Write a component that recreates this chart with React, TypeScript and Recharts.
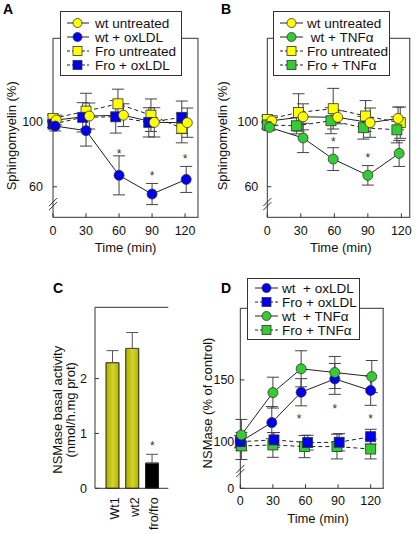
import React from 'react';
import { ComposedChart, Line, Bar, XAxis, YAxis, ErrorBar, ReferenceDot, ReferenceLine, Cell } from 'recharts';

const FONT = '"Liberation Sans", Arial, Helvetica, sans-serif';
const AX = '#333';
const TXT = '#111';
const YELLOW = '#ffff00';
const BLUE = '#0000ee';
const GREEN = '#33cc33';

const TIME_TICKS = [0, 30, 60, 90, 120];

// ---------- Panel A : Sphingomyelin, oxLDL ----------
const A_WT_UNT_T = [3, 33, 64, 92, 122];
const A_WT_UNT_V = [101, 103.5, 104, 99.6, 99.4];
const A_WT_UNT_E = [3, 8, 7, 9, 9];
const A_WT_OX_T = [2, 30, 60, 90, 121];
const A_WT_OX_V = [97.3, 94.5, 67, 55.5, 64.5];
const A_WT_OX_E = [3, 9.5, 12, 6.5, 8];
const A_FRO_UNT_T = [0, 30, 59, 89, 117];
const A_FRO_UNT_V = [102, 106.5, 111, 104, 96];
const A_FRO_UNT_E = [2, 11, 9, 10, 9];
const A_FRO_OX_T = [0, 27, 57, 87, 117];
const A_FRO_OX_V = [98.5, 102.7, 103, 99.6, 102.7];
const A_FRO_OX_E = [2, 9, 10, 9, 10];
const A_STAR_T = [60, 90, 120];
const A_STAR_V = [81.5, 68.3, 78.5];

// ---------- Panel B : Sphingomyelin, TNFα ----------
const B_WT_UNT_T = [4, 32, 63, 92, 117];
const B_WT_UNT_V = [100.6, 103, 102.7, 99.4, 102];
const B_WT_UNT_E = [3, 8, 4, 9, 7];
const B_WT_TNF_T = [2, 32, 59, 90, 118];
const B_WT_TNF_V = [96.5, 90, 77, 67, 80.5];
const B_WT_TNF_E = [2, 9, 7, 6, 8];
const B_FRO_UNT_T = [0, 28, 59, 88, 119];
const B_FRO_UNT_V = [101.4, 105.7, 108, 103.5, 99.4];
const B_FRO_UNT_E = [2, 11.5, 12.5, 9.5, 9.6];
const B_FRO_TNF_T = [0, 26, 57, 86, 116];
const B_FRO_TNF_V = [98, 97.5, 100.6, 96.3, 95];
const B_FRO_TNF_E = [2, 5, 8, 7, 8];
const B_STAR_T = [59, 90];
const B_STAR_V = [89.2, 79.1];

// ---------- Panel C : NSMase basal activity ----------
const C_CATS = ['Wt1', 'wt2', 'fro/fro'];
const C_VALUES = [2.29, 2.55, 0.46];
const C_ERRORS = [0.22, 0.29, 0.16];
const C_STAR_CAT = 'fro/fro';
const C_STAR_V = 0.82;
const C_Y_MAX = 3.3;

// ---------- Panel D : NSMase (% of control) ----------
const D_WT_OX_T = [0, 29, 56, 87, 120];
const D_WT_OX_V = [100, 115.4, 140, 150.8, 141.4];
const D_WT_OX_E = [5, 13, 11, 12.5, 12];
const D_FRO_OX_T = [0, 31, 62, 91, 120];
const D_FRO_OX_V = [100, 101.4, 99.2, 99.5, 104];
const D_FRO_OX_E = [5, 6, 6, 7, 6];
const D_WT_TNF_T = [1, 30, 56, 87, 121];
const D_WT_TNF_V = [105.4, 139.7, 159, 156, 152.7];
const D_WT_TNF_E = [12.6, 12.5, 14.6, 13, 13];
const D_FRO_TNF_T = [1, 30, 59, 89, 120];
const D_FRO_TNF_V = [96.5, 97.3, 96, 96, 94];
const D_FRO_TNF_E = [11, 10, 9, 10, 8];
const D_STAR_T = [54, 87, 120];
const D_STAR_V = [120.3, 128.4, 120.3];
const D_BREAK_BOTTOM = 62.2; // broken axis: bottom of the axis is labelled "0"

type Pt = { t: number; v: number; e: number };
const pts = (t: number[], v: number[], e: number[]): Pt[] => t.map((x, i) => ({ t: x, v: v[i], e: e[i] }));

type Series = { name: string; color: string; shape: 'circle' | 'square'; dashed: boolean; data: Pt[] };

const A_SERIES: Series[] = [
  { name: 'Fro untreated', color: YELLOW, shape: 'square', dashed: true, data: pts(A_FRO_UNT_T, A_FRO_UNT_V, A_FRO_UNT_E) },
  { name: 'Fro + oxLDL', color: BLUE, shape: 'square', dashed: true, data: pts(A_FRO_OX_T, A_FRO_OX_V, A_FRO_OX_E) },
  { name: 'wt untreated', color: YELLOW, shape: 'circle', dashed: false, data: pts(A_WT_UNT_T, A_WT_UNT_V, A_WT_UNT_E) },
  { name: 'wt + oxLDL', color: BLUE, shape: 'circle', dashed: false, data: pts(A_WT_OX_T, A_WT_OX_V, A_WT_OX_E) },
];
const A_LEGEND = ['wt untreated', 'wt + oxLDL', 'Fro untreated', 'Fro + oxLDL'];

const B_SERIES: Series[] = [
  { name: 'Fro untreated', color: YELLOW, shape: 'square', dashed: true, data: pts(B_FRO_UNT_T, B_FRO_UNT_V, B_FRO_UNT_E) },
  { name: 'Fro + TNFα', color: GREEN, shape: 'square', dashed: true, data: pts(B_FRO_TNF_T, B_FRO_TNF_V, B_FRO_TNF_E) },
  { name: 'wt untreated', color: YELLOW, shape: 'circle', dashed: false, data: pts(B_WT_UNT_T, B_WT_UNT_V, B_WT_UNT_E) },
  { name: ' wt + TNFα', color: GREEN, shape: 'circle', dashed: false, data: pts(B_WT_TNF_T, B_WT_TNF_V, B_WT_TNF_E) },
];
const B_LEGEND = ['wt untreated', ' wt + TNFα', 'Fro untreated', 'Fro + TNFα'];

const D_SERIES: Series[] = [
  { name: 'Fro + TNFα', color: GREEN, shape: 'square', dashed: true, data: pts(D_FRO_TNF_T, D_FRO_TNF_V, D_FRO_TNF_E) },
  { name: 'Fro + oxLDL', color: BLUE, shape: 'square', dashed: true, data: pts(D_FRO_OX_T, D_FRO_OX_V, D_FRO_OX_E) },
  { name: 'wt  + oxLDL', color: BLUE, shape: 'circle', dashed: false, data: pts(D_WT_OX_T, D_WT_OX_V, D_WT_OX_E) },
  { name: 'wt  + TNFα', color: GREEN, shape: 'circle', dashed: false, data: pts(D_WT_TNF_T, D_WT_TNF_V, D_WT_TNF_E) },
];
const D_LEGEND = ['wt  + oxLDL', 'Fro + oxLDL', 'wt  + TNFα', 'Fro + TNFα'];

const C_DATA = C_CATS.map((c, i) => ({ name: c, v: C_VALUES[i], e: [0, C_ERRORS[i]] }));

// ---------- shared drawing helpers ----------
function Marker({ cx, cy, color, shape, size = 5 }: any) {
  if (cx == null || cy == null) return null;
  return shape === 'circle' ? (
    <circle cx={cx} cy={cy} r={size} fill={color} stroke="#333" strokeWidth={0.8} />
  ) : (
    <rect x={cx - size} y={cy - size} width={size * 2} height={size * 2} fill={color} stroke="#333" strokeWidth={0.8} />
  );
}

const renderSeries = (s: Series) => (
  <Line
    key={s.name}
    name={s.name}
    data={s.data}
    dataKey="v"
    type="linear"
    stroke="#222"
    strokeWidth={1}
    strokeDasharray={s.dashed ? '4 3' : undefined}
    isAnimationActive={false}
    activeDot={false}
    dot={(p: any) => <Marker key={`${s.name}-${p.index}`} cx={p.cx} cy={p.cy} color={s.color} shape={s.shape} />}
  >
    <ErrorBar dataKey="e" width={6} stroke="#444" strokeWidth={1} direction="y" />
  </Line>
);

const yTick = (gap: number, fmt?: (v: number) => string, inward = true) => (p: any) => {
  const ax = p.x + gap;
  return (
    <g>
      {inward && <line x1={ax} x2={ax + 4} y1={p.y} y2={p.y} stroke={AX} strokeWidth={1} />}
      <text x={p.x} y={p.y} dy="0.355em" textAnchor="end" fontSize={12.5} fill={TXT} fontFamily={FONT}>
        {fmt ? fmt(p.payload.value) : p.payload.value}
      </text>
    </g>
  );
};

const xTick = (gap: number) => (p: any) => {
  const ay = p.y - gap;
  return (
    <g>
      <line x1={p.x} x2={p.x} y1={ay} y2={ay - 4} stroke={AX} strokeWidth={1} />
      <text x={p.x} y={p.y} dy="0.71em" textAnchor="middle" fontSize={12.5} fill={TXT} fontFamily={FONT}>
        {p.payload.value}
      </text>
    </g>
  );
};

const yTitle = (lines: string[], xs: number[], dy: number) => (props: any) => {
  const vb = props.viewBox || { x: 0, y: 0, width: 0, height: 0 };
  const cy = vb.y + vb.height / 2 + dy;
  return (
    <g>
      {lines.map((l, i) => {
        const cx = vb.x + xs[i];
        return (
          <text key={i} x={cx} y={cy} transform={`rotate(-90 ${cx} ${cy})`} textAnchor="middle" dominantBaseline="central" fontSize={13} fill={TXT} fontFamily={FONT}>
            {l}
          </text>
        );
      })}
    </g>
  );
};

const xTitle = (text: string, dx: number, dy: number) => (props: any) => {
  const vb = props.viewBox || { x: 0, y: 0, width: 0, height: 0 };
  const cx = vb.x + vb.width / 2 + dx;
  const cy = vb.y + dy;
  return (
    <text x={cx} y={cy} textAnchor="middle" dominantBaseline="central" fontSize={13} fill={TXT} fontFamily={FONT}>
      {text}
    </text>
  );
};

const StarShape = (p: any) => (
  <text x={p.cx} y={p.cy + 6.5} textAnchor="middle" fontSize={12} fill="#333" fontFamily={FONT}>
    *
  </text>
);

const BreakShape = (p: any) => (
  <g stroke={AX} strokeWidth={1}>
    <line x1={p.cx - 4} y1={p.cy + 1} x2={p.cx + 4} y2={p.cy - 7} />
    <line x1={p.cx - 4} y1={p.cy + 5} x2={p.cx + 4} y2={p.cy - 3} />
  </g>
);

function LegendBox({ left, top, width, height, items, series, padLeft, svgW, markerX, gap, rowH, padTop }: any) {
  return (
    <div
      style={{
        position: 'absolute', left, top, width, height, boxSizing: 'border-box', border: `1px solid ${AX}`,
        background: '#fff', paddingTop: padTop, paddingLeft: padLeft, fontFamily: FONT, fontSize: 13.5, color: TXT, zIndex: 5,
      }}
    >
      {items.map((name: string) => {
        const s: Series = series.find((x: Series) => x.name === name);
        return (
          <div key={name} style={{ display: 'flex', alignItems: 'center', height: rowH, whiteSpace: 'pre' }}>
            <svg width={svgW} height={12} style={{ marginRight: gap, flex: 'none' }}>
              <line x1={0} x2={svgW} y1={6} y2={6} stroke="#222" strokeWidth={1} strokeDasharray={s.dashed ? '3 2' : undefined} />
              <Marker cx={markerX} cy={6} color={s.color} shape={s.shape} size={4.5} />
            </svg>
            <span>{name}</span>
          </div>
        );
      })}
    </div>
  );
}

function TimePanel(props: any) {
  const { left, top, width, height, margin, yWidth, xHeight, xDomain, yDomain, yTicks, yFmt, yGap, xGap,
    series, starT, starV, breakV, yTitleText, yTitleX, yTitleDy, xTitleDx, xTitleDy } = props;
  return (
    <div style={{ position: 'absolute', left, top, width, height }}>
      <ComposedChart width={width} height={height} margin={margin}>
        <XAxis
          dataKey="t" type="number" domain={xDomain} ticks={TIME_TICKS} interval={0} allowDecimals={false}
          height={xHeight} tickSize={0} tickMargin={xGap} tick={xTick(xGap)} tickLine={false}
          axisLine={{ stroke: AX }} label={xTitle('Time (min)', xTitleDx, xTitleDy)}
        />
        <YAxis
          type="number" domain={yDomain} ticks={yTicks} interval={0} width={yWidth} tickSize={0} tickMargin={yGap}
          tick={yTick(yGap, yFmt)} tickLine={false} axisLine={{ stroke: AX }}
          label={yTitle([yTitleText], [yTitleX], yTitleDy)}
        />
        {/* frame: top and right edges of the plot box */}
        <ReferenceLine y={yDomain[1]} stroke={AX} strokeWidth={1} ifOverflow="visible" />
        <ReferenceLine x={xDomain[1]} stroke={AX} strokeWidth={1} ifOverflow="visible" />
        {series.map(renderSeries)}
        {starT.map((t: number, i: number) => (
          <ReferenceDot key={`s${i}`} x={t} y={starV[i]} shape={StarShape} ifOverflow="visible" />
        ))}
        <ReferenceDot x={xDomain[0]} y={breakV} shape={BreakShape} ifOverflow="visible" />
      </ComposedChart>
    </div>
  );
}

const letterStyle = (left: number, top: number): React.CSSProperties => ({
  position: 'absolute', left, top, fontFamily: FONT, fontWeight: 'bold', fontSize: 14, lineHeight: '14px', color: '#000', zIndex: 6,
});

export default function App() {
  return (
    <div style={{ position: 'absolute', left: 0, top: 0, width: 416, height: 535, background: '#fff', overflow: 'hidden' }}>
      <TimePanel
        left={0} top={0} width={208} height={270}
        margin={{ top: 38.3, right: 9.7, bottom: 0, left: 0 }} yWidth={53} xHeight={52.7}
        xDomain={[0, 131.7]} yDomain={[41.2, 151.3]} yTicks={[60, 100]} yGap={10} xGap={9}
        series={A_SERIES} starT={A_STAR_T} starV={A_STAR_V} breakV={48.7}
        yTitleText="Sphingomyelin (%)" yTitleX={12} yTitleDy={8} xTitleDx={0} xTitleDy={29.7}
      />
      <TimePanel
        left={208} top={0} width={208} height={270}
        margin={{ top: 38.3, right: 5.7, bottom: 0, left: 0 }} yWidth={59.3} xHeight={52.7}
        xDomain={[0, 127.5]} yDomain={[41.2, 151.3]} yTicks={[60, 100]} yGap={9} xGap={9}
        series={B_SERIES} starT={B_STAR_T} starV={B_STAR_V} breakV={48.7}
        yTitleText="Sphingomyelin (%)" yTitleX={15} yTitleDy={8} xTitleDx={2} xTitleDy={29.7}
      />
      <TimePanel
        left={194} top={270} width={222} height={265}
        margin={{ top: 38.3, right: 32.3, bottom: 0, left: 0 }} yWidth={46.3} xHeight={46.7}
        xDomain={[0, 131.5]} yDomain={[D_BREAK_BOTTOM, 208]} yTicks={[D_BREAK_BOTTOM, 100, 150]}
        yFmt={(v: number) => (v === D_BREAK_BOTTOM ? '0' : String(v))} yGap={6} xGap={8}
        series={D_SERIES} starT={D_STAR_T} starV={D_STAR_V} breakV={75.4}
        yTitleText="NSMase (% of control)" yTitleX={13} yTitleDy={4.7} xTitleDx={6} xTitleDy={29.7}
      />

      <div style={{ position: 'absolute', left: 0, top: 270, width: 208, height: 265 }}>
        <ComposedChart width={208} height={265} data={C_DATA} margin={{ top: 37.3, right: 39.7, bottom: 0, left: 0 }}>
          <defs>
            <linearGradient id="oliveGrad" x1="0" y1="0" x2="1" y2="0">
              <stop offset="0%" stopColor="#b0b000" />
              <stop offset="55%" stopColor="#d4d42a" />
              <stop offset="100%" stopColor="#b0b000" />
            </linearGradient>
          </defs>
          <XAxis
            dataKey="name" type="category" height={46.7} padding={{ left: 8, right: 6 }} tickSize={0} tickMargin={9}
            tickLine={false} axisLine={{ stroke: AX }} interval={0}
            tick={(p: any) => (
              <text x={p.x + 2} y={p.y} transform={`rotate(-90 ${p.x + 2} ${p.y})`} textAnchor="end" dominantBaseline="central" fontSize={12.5} fill={TXT} fontFamily={FONT}>
                {p.payload.value}
              </text>
            )}
          />
          <YAxis
            type="number" domain={[0, C_Y_MAX]} ticks={[0, 1, 2]} interval={0} width={95} tickSize={0} tickMargin={8}
            tick={yTick(8)} tickLine={false} axisLine={{ stroke: AX }}
            label={yTitle(['NSMase basal activity', '(nmol/h.mg prot)'], [58, 70.7], 12)}
          />
          {/* right edge of the plot box: a bare axis with its own fixed domain */}
          <YAxis yAxisId="right" orientation="right" type="number" domain={[0, 1]} width={0} tick={false} tickLine={false} axisLine={{ stroke: AX }} />
          <ReferenceLine y={C_Y_MAX} stroke={AX} strokeWidth={1} ifOverflow="visible" />
          <Bar dataKey="v" barSize={13} stroke="#222" strokeWidth={1} isAnimationActive={false}>
            {C_DATA.map((d, i) => (
              <Cell key={d.name} fill={i < 2 ? 'url(#oliveGrad)' : '#000'} />
            ))}
            <ErrorBar dataKey="e" width={6} stroke="#555" strokeWidth={1} direction="y" />
          </Bar>
          <ReferenceDot x={C_STAR_CAT} y={C_STAR_V} shape={StarShape} ifOverflow="visible" />
        </ComposedChart>
      </div>

      <LegendBox left={60} top={11} width={122} height={65} items={A_LEGEND} series={A_SERIES}
        padLeft={6} svgW={22} markerX={10.5} gap={6} rowH={14} padTop={4} />
      <LegendBox left={273} top={11} width={117} height={65} items={B_LEGEND} series={B_SERIES}
        padLeft={6} svgW={23} markerX={11.5} gap={4} rowH={14} padTop={4} />
      <LegendBox left={247} top={278} width={113} height={62} items={D_LEGEND} series={D_SERIES}
        padLeft={7} svgW={23} markerX={11.5} gap={4} rowH={14} padTop={2} />

      <div style={letterStyle(3, 2)}>A</div>
      <div style={letterStyle(221, 2)}>B</div>
      <div style={letterStyle(53, 281)}>C</div>
      <div style={letterStyle(221, 281)}>D</div>
    </div>
  );
}
